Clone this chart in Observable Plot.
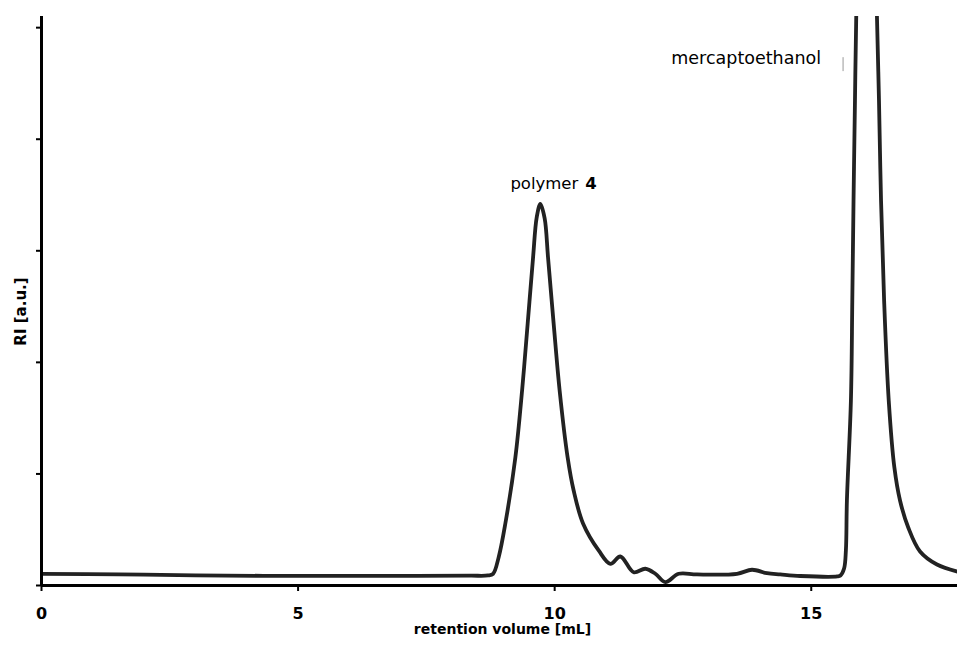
<!DOCTYPE html>
<html>
<head>
<meta charset="utf-8">
<script src="https://cdn.jsdelivr.net/npm/d3@7"></script>
<script src="https://cdn.jsdelivr.net/npm/@observablehq/plot@0.6"></script>
<style>
  html, body { margin: 0; padding: 0; background: #fff; }
  #chart svg { display: block; }
</style>
</head>
<body>
<div id="chart"></div>
<script>
// Retention volume (mL) and RI signal (a.u.)
const retention = [0, 1.5, 3.0, 5.0, 7.0, 8.36, 8.70, 8.80, 8.909, 9.039, 9.234, 9.365, 9.474, 9.579, 9.650, 9.721, 9.805, 9.871, 9.98, 10.097, 10.253, 10.37, 10.553, 10.857, 11.086, 11.28, 11.539, 11.767, 11.962, 12.157, 12.416, 12.774, 13.553, 13.846, 14.138, 14.397, 14.785, 15.507, 15.57, 15.64, 15.675, 15.695, 15.773, 15.80, 15.824, 15.852, 15.877, 16.08, 16.28, 16.32, 16.36, 16.42, 16.51, 16.62, 16.73, 16.89, 17.12, 17.45, 17.85];
const ri        = [0.105, 0.100, 0.090, 0.086, 0.086, 0.088, 0.090, 0.105, 0.254, 0.556, 1.147, 1.747, 2.348, 2.939, 3.300, 3.420, 3.290, 2.939, 2.348, 1.747, 1.147, 0.851, 0.556, 0.314, 0.194, 0.260, 0.119, 0.150, 0.105, 0.030, 0.105, 0.099, 0.105, 0.141, 0.110, 0.099, 0.085, 0.081, 0.090, 0.152, 0.314, 0.762, 1.658, 2.554, 3.450, 4.346, 5.108, 9.000, 5.108, 4.346, 3.450, 2.554, 1.658, 1.057, 0.762, 0.520, 0.305, 0.188, 0.125];

const xTicks = [0, 5, 10, 15];
const yTicks = [0, 1, 2, 3, 4, 5];
const xLabel = "retention volume [mL]";
const yLabel = "RI [a.u.]";

// Peak annotations (data units)
const polymerLabel = ["polymer"];
const polymerNumber = ["4"];
const solventLabel = ["mercaptoethanol"];
const polymerLabelX = 9.137, polymerNumberX = 10.598, annotationY1 = 3.605;
const solventLabelX = 12.273, annotationY2 = 4.728;
const markerX = [15.62];
const markerY1 = [4.606];
const markerY2 = [4.731];

const data = retention.map((x, i) => ({x, y: ri[i]}));
const markers = markerX.map((x, i) => ({x, y1: markerY1[i], y2: markerY2[i]}));

const chart = Plot.plot({
  width: 957,
  height: 648,
  marginLeft: 41,
  marginRight: 0,
  marginTop: 16,
  marginBottom: 63,
  style: {fontFamily: "DejaVu Sans", background: "#fff", color: "#000"},
  x: {domain: [0, 17.85], axis: null},
  y: {domain: [0, 5.1], axis: null},
  marks: [
    Plot.line(data, {x: "x", y: "y", curve: "catmull-rom", stroke: "#222", strokeWidth: 3.8, clip: true}),
    Plot.ruleY([0], {stroke: "#000", strokeWidth: 3}),
    Plot.ruleX([0], {stroke: "#000", strokeWidth: 3}),
    Plot.axisX(xTicks, {tickSize: 6, tickPadding: 16, strokeWidth: 2, fontSize: 16, fontWeight: "bold", label: null}),
    Plot.axisY(yTicks, {tickSize: 5, strokeWidth: 2, tickFormat: () => "", label: null}),
    Plot.text([xLabel], {frameAnchor: "bottom", textAnchor: "middle", dx: 3, dy: 44.5, fontSize: 14, fontWeight: "bold", lineAnchor: "middle"}),
    Plot.text([yLabel], {frameAnchor: "left", textAnchor: "middle", rotate: -90, dx: -20, dy: 10.5, fontSize: 15, fontWeight: "bold", lineAnchor: "middle"}),
    Plot.text(polymerLabel, {x: () => polymerLabelX, y: () => annotationY1, text: d => d, fontSize: 16.5, textAnchor: "start", lineAnchor: "middle"}),
    Plot.text(polymerNumber, {x: () => polymerNumberX, y: () => annotationY1, text: d => d, fontSize: 16.5, fontWeight: "bold", textAnchor: "start", lineAnchor: "middle"}),
    Plot.text(solventLabel, {x: () => solventLabelX, y: () => annotationY2, text: d => d, fontSize: 17.5, textAnchor: "start", lineAnchor: "middle"}),
    Plot.ruleX(markers, {x: "x", y1: "y1", y2: "y2", stroke: "#999", strokeWidth: 1})
  ]
});
document.getElementById("chart").append(chart);
</script>
</body>
</html>
